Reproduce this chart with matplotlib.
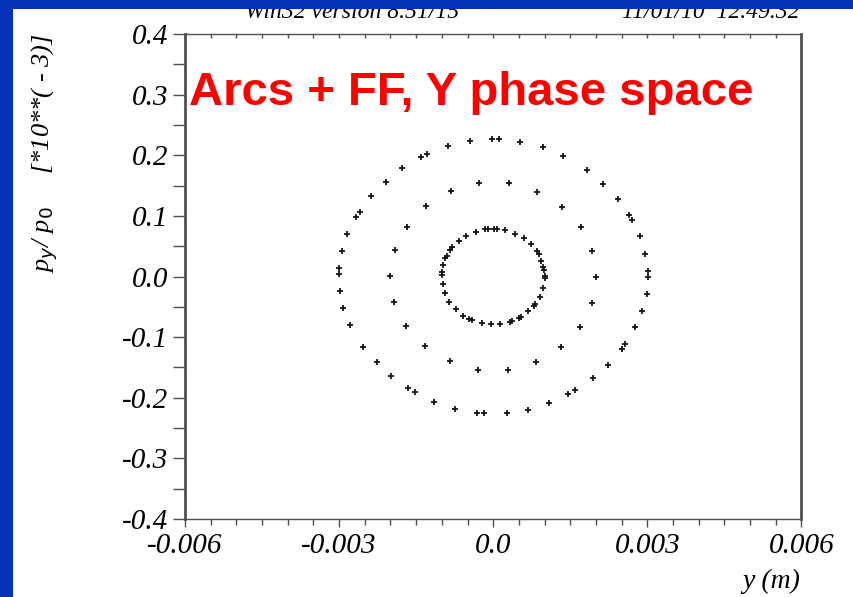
import matplotlib
matplotlib.use("Agg")
import matplotlib.pyplot as plt
from matplotlib.patches import Rectangle
from matplotlib.ticker import MultipleLocator
import numpy as np

# y in m, p_y/p_0 in units of 1e-3, one list pair per ring
outer_y = [-0.03, 0.11, 0.53, 0.96, 1.35, 1.83, 2.14, 2.42, 2.64, 2.70, 2.86, 2.96, 3.01,
           3.02, 2.99, 2.90, 2.76, 2.57, 2.50, 2.23, 1.94, 1.60, 1.46, 1.08, 0.68, 0.26,
           -0.17, -0.32, -0.74, -1.15, -1.53, -1.65, -1.99, -2.27, -2.53, -2.78, -2.92,
           -2.99, -3.01, -3.01, -2.95, -2.84, -2.67, -2.60, -2.37, -2.09, -1.77, -1.40,
           -1.29, -0.88, -0.46]
outer_py = [0.2274, 0.2274, 0.2225, 0.2132, 0.1995, 0.1749, 0.1530, 0.1284, 0.1021, 0.0928,
            0.0660, 0.0375, 0.0096, -0.0003, -0.0287, -0.0567, -0.0840, -0.1108, -0.1201,
            -0.1453, -0.1678, -0.1875, -0.1940, -0.2094, -0.2203, -0.2258, -0.2258, -0.2252,
            -0.2181, -0.2072, -0.1913, -0.1847, -0.1645, -0.1404, -0.1158, -0.0796, -0.0523,
            -0.0238, 0.0041, 0.0145, 0.0419, 0.0703, 0.0977, 0.1065, 0.1322, 0.1563, 0.1787,
            0.1968, 0.2022, 0.2154, 0.2236]

middle_y = [-0.28, 0.30, 0.85, 1.33, 1.70, 1.93, 2.00, 1.92, 1.69, 1.31, 0.83, 0.28,
            -0.30, -0.84, -1.32, -1.70, -1.93, -2.00, -1.92, -1.68, -1.31, -0.83]
middle_py = [0.1535, 0.1535, 0.1398, 0.1152, 0.0813, 0.0419, -0.0003, -0.0430, -0.0829,
             -0.1169, -0.1409, -0.1541, -0.1541, -0.1398, -0.1152, -0.0813, -0.0419, 0.0003,
             0.0430, 0.0824, 0.1163, 0.1409]

inner_y = [-0.34, -0.165, -0.107, 0.016, 0.081, 0.237, 0.431, 0.593, 0.736, 0.853, 0.892,
           0.937, 0.976, 0.989, 1.002, 1.002, 0.976, 0.905, 0.820, 0.788, 0.684, 0.542,
           0.503, 0.366, 0.327, 0.139, -0.042, -0.224, -0.412, -0.464, -0.580, -0.717,
           -0.859, -0.944, -0.982, -1.002, -0.995, -0.970, -0.944, -0.905, -0.833, -0.801,
           -0.671, -0.522]
inner_py = [0.0742, 0.0785, 0.0785, 0.0791, 0.0791, 0.0769, 0.0709, 0.0632, 0.0534, 0.0413,
            0.0369, 0.0260, 0.0151, 0.0112, 0.0014, -0.0030, -0.0194, -0.0331, -0.0452,
            -0.0490, -0.0577, -0.0660, -0.0681, -0.0736, -0.0753, -0.0780, -0.0791, -0.0769,
            -0.0725, -0.0703, -0.0649, -0.0539, -0.0413, -0.0271, -0.0123, 0.0030, 0.0068,
            0.0189, 0.0304, 0.0342, 0.0441, 0.0479, 0.0588, 0.0671]

xticks = [-0.006, -0.003, 0.0, 0.003, 0.006]
xtick_labels = ["-0.006", "-0.003", "0.0", "0.003", "0.006"]
yticks = [-0.4, -0.3, -0.2, -0.1, 0.0, 0.1, 0.2, 0.3, 0.4]
ytick_labels = ["-0.4", "-0.3", "-0.2", "-0.1", "0.0", "0.1", "0.2", "0.3", "0.4"]

title = "Arcs + FF, Y phase space"
header_left = "Win32 version 8.51/15"
header_right = "11/01/10  12.49.32"

serif = {"family": "Liberation Serif", "style": "italic"}
blue = "#0532b8"
axcol = "#505050"

fig = plt.figure(figsize=(8.54, 5.97), dpi=100)
ax = fig.add_axes([0.2166, 0.1307, 0.7219, 0.8123])

for ys, ps in [(outer_y, outer_py), (middle_y, middle_py), (inner_y, inner_py)]:
    ax.plot(np.array(ys) * 1e-3, ps, linestyle="none", marker="+",
            markersize=4.5, mew=1.3, color="#151515")

ax.set_xlim(-0.006, 0.006)
ax.set_ylim(-0.4, 0.4)
ax.set_xticks(xticks)
ax.set_xticklabels(xtick_labels, fontdict=serif, fontsize=21)
ax.set_yticks(yticks)
ax.set_yticklabels(ytick_labels, fontdict=serif, fontsize=21)
ax.xaxis.set_minor_locator(MultipleLocator(0.0005))
ax.yaxis.set_minor_locator(MultipleLocator(0.05))

ax.tick_params(axis="x", which="both", direction="out", bottom=True, top=False,
               color=axcol, width=1, pad=4)
ax.tick_params(axis="x", which="major", length=6)
ax.tick_params(axis="x", which="minor", length=4)
ax.tick_params(axis="y", which="both", direction="out", left=True, right=False,
               length=9, color=axcol, width=1, pad=3)
# top axis: short inward ticks
sec = ax.secondary_xaxis("top")
sec.set_xticks(xticks)
sec.set_xticklabels([])
sec.xaxis.set_minor_locator(MultipleLocator(0.0005))
sec.tick_params(which="both", direction="in", length=3, color=axcol, width=1)
sec.spines["top"].set_visible(False)

for side in ["left", "right"]:
    ax.spines[side].set_linewidth(2)
    ax.spines[side].set_color(axcol)
for side in ["top", "bottom"]:
    ax.spines[side].set_linewidth(1)
    ax.spines[side].set_color(axcol)

fig.text(0.2213, 1 - 105 / 597, title, color="#ff0000", fontsize=34,
         fontweight="bold", family="Liberation Sans", va="baseline", ha="left")

fig.text(45 / 854, 1 - 153 / 597, "p$_y$/ p$_0$     [*10**( - 3)]", rotation=90,
         ha="center", va="center", fontsize=19, **serif)
fig.text(800 / 854, 1 - 588 / 597, "y (m)", ha="right", va="baseline",
         fontsize=20, **serif)

fig.text(245 / 854, 1 - 18 / 597, header_left, ha="left", va="baseline",
         fontsize=17, **serif)
fig.text(800 / 854, 1 - 18 / 597, header_right, ha="right", va="baseline",
         fontsize=17, **serif)

# blue slide frame over everything
fig.patches.append(Rectangle((0, 0), 13 / 854, 1, transform=fig.transFigure,
                             facecolor=blue, edgecolor="none", zorder=10))
fig.patches.append(Rectangle((0, 1 - 9 / 597), 1, 9 / 597, transform=fig.transFigure,
                             facecolor=blue, edgecolor="none", zorder=10))

fig.savefig("out.png", dpi=100)
